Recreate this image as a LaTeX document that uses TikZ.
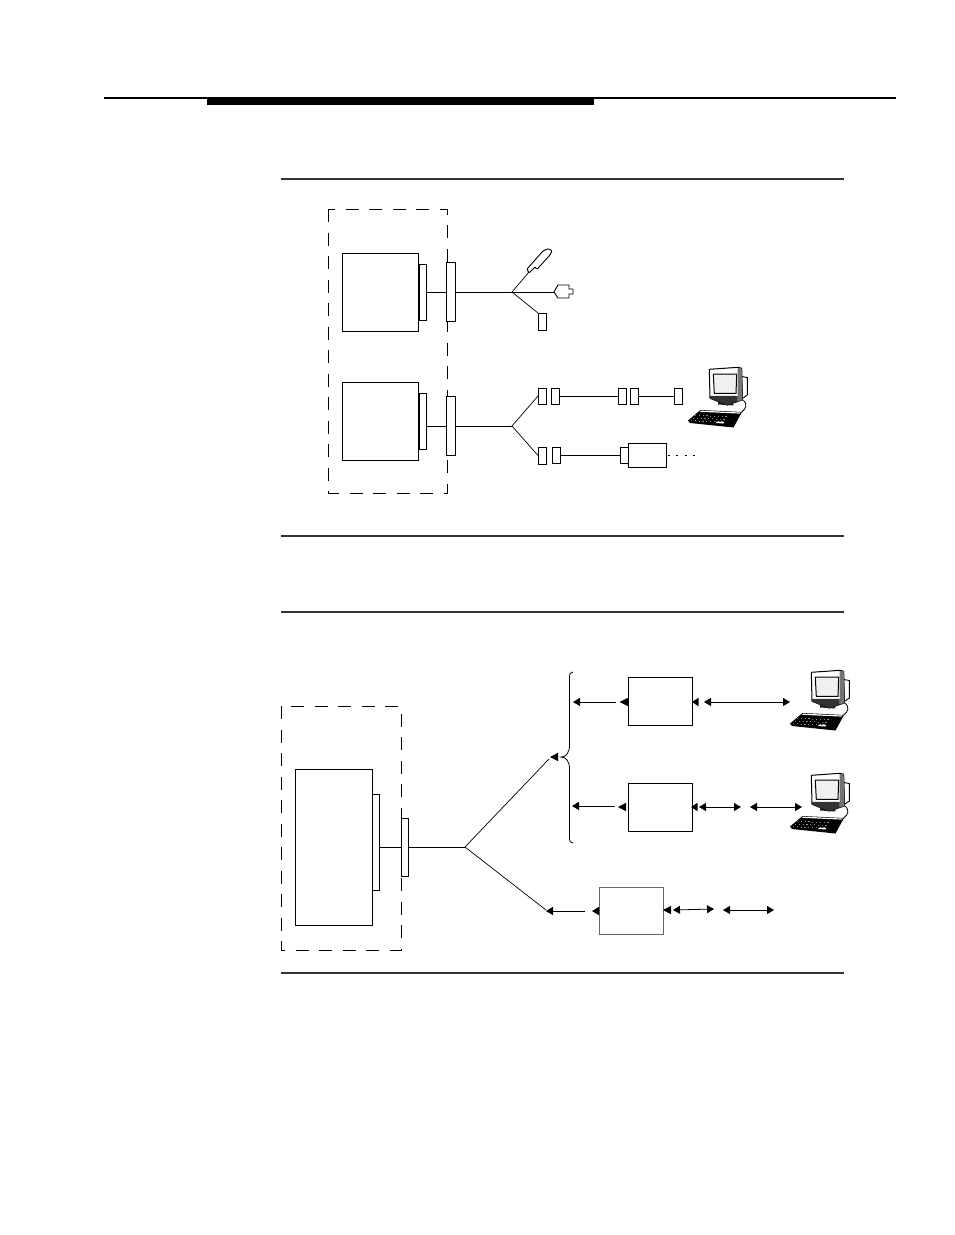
\documentclass[tikz,border=0pt]{standalone}
\usetikzlibrary{arrows.meta}
\tikzset{
  x=1pt,y=-1pt,
  ln/.style={line width=0.9pt,black},
  bx/.style={draw=black,fill=white,line width=0.9pt,inner sep=0pt,outer sep=0pt},
  gbx/.style={bx,draw=black!60},
  dsh/.style={line width=0.9pt,dash pattern=on 13pt off 10.5pt},
  rule/.style={line width=1.7pt,black!80},
  dbl/.style={line width=0.8pt,{Triangle[length=7pt,width=8pt]}-{Triangle[length=7pt,width=8pt]}},
  sgl/.style={line width=0.8pt,{Triangle[length=7pt,width=8pt]}-},
}
% name, x1, y1, x2, y2, style
\newcommand\bxat[6]{%
  \pgfmathsetmacro\bw{#4-#2}\pgfmathsetmacro\bh{#5-#3}%
  \pgfmathsetmacro\bcx{(#2+#4)/2}\pgfmathsetmacro\bcy{(#3+#5)/2}%
  \node[#6,minimum width=\bw pt,minimum height=\bh pt] (#1) at (\bcx,\bcy) {};}
% left-pointing head: tip x, base x, y
\newcommand\lhead[3]{\fill (#1,#3) -- (#2,#3-4.2) -- (#2,#3+4.2) -- cycle;}
\newcommand\computer[1]{%
\begin{scope}[shift={#1}]
  % side bump
  \draw[line width=0.9pt,fill=white] (741.7,376.5) -- (747.3,377.5) -- (747.3,395) -- (742.3,398.5) -- cycle;
  % cable
  \draw[line width=0.8pt] (743.3,400) .. controls (747,404) and (747,408) .. (741.7,412);
  % stand
  \fill[black!85] (718,400) -- (733,400) -- (733.5,405.5) -- (718,404.5) -- cycle;
  % monitor body
  \draw[line width=1pt,fill=white] (709.3,369.3) -- (738.3,367.3) -- (741.7,368.3) -- (742.3,400) -- (727,405) -- (710,398.3) -- cycle;
  \fill[black!55] (737.5,368) -- (741.7,368.3) -- (742.3,400) -- (737.5,401.5) -- cycle;
  \fill[black!80] (710,395.8) -- (737.5,396) -- (737.5,401.5) -- (727,405) -- (710,398.3) -- cycle;
  \draw[line width=1pt,fill=black!6] (713.3,374) -- (736.7,374) -- (736,393.3) -- (714.3,393.3) -- cycle;
  % keyboard
  \fill[black] (688,420.5) -- (700.5,410) -- (742,412) -- (733.5,427.5) -- (690,423) -- cycle;
  \fill[white] (701,410.6) -- (740.5,412.5) -- (739.5,413.6) -- (700,411.8) -- cycle;
  \foreach \r in {0,1,2}{\foreach \c in {0,1,2,3,4,5,6,7,8}{
    \fill[black!45] ({695+\r*(-2)+\c*3.8},{415+\r*2.6+\c*0.15}) rectangle +(1.2,0.7);}}
  \fill[white] (717,421.5) -- (724,422) -- (723.5,423.5) -- (716,423) -- cycle;
\end{scope}}
\begin{document}
\begin{tikzpicture}
\useasboundingbox (0,0) rectangle (954,1235);
\fill[white] (0,0) rectangle (954,1235);

% page header
\coordinate (hl) at (104,98); \coordinate (hr) at (896,98);
\draw[line width=1.2pt] (hl) -- (hr);
\fill (207,97.5) rectangle (594,104.5);

% rules
\foreach \y in {179,536,612,973}{\draw[rule] (281,\y) -- (844,\y);}

%% ---- upper figure
\draw[dsh] (328,209) rectangle (447,493);
\bxat{a1}{342}{253}{418.5}{331}{bx}
\bxat{a1s}{419}{264}{426}{320}{bx}
\draw[line width=1.8pt] (a1s.north west) ++(0.2,0) -- ++(0,56);
\bxat{a1c}{446.5}{262.5}{455.5}{321.5}{bx}
\bxat{a2}{342}{382}{418.5}{460}{bx}
\bxat{a2s}{419}{393}{426}{449}{bx}
\draw[line width=1.8pt] (a2s.north west) ++(0.2,0) -- ++(0,56);
\bxat{a2c}{446.5}{396.5}{455.5}{455.5}{bx}

\coordinate (j1) at (512,292);
\coordinate (j2) at (512,426);
\draw[ln] (a1s.east |- j1) -- (a1c.west |- j1);
\draw[ln] (a1c.east |- j1) -- (j1);
\draw[ln] (a2s.east |- j2) -- (a2c.west |- j2);
\draw[ln] (a2c.east |- j2) -- (j2);

% handset
\draw[line width=0.9pt,fill=white,rounded corners=0.8pt] (529,273) -- (527,269) -- (543,251) -- (548,248.7) -- (552,250.7) -- (550,255) -- (537,269.3) -- (535,267) -- cycle;
\coordinate (hs) at (529,272);
\draw[ln,line width=0.7pt] (j1) -- (hs);
% plug
\draw[line width=0.9pt,fill=white] (554,292) -- (558,285) -- (569,285) -- (569,289) -- (573,289) -- (573,294) -- (569,294) -- (569,298) -- (558,298) -- cycle;
\coordinate (pl) at (554,292);
\draw[ln] (j1) -- (pl);
\bxat{c1}{538}{313}{546}{330}{bx}
\draw[ln,line width=0.7pt] (j1) -- (c1.north west);

\bxat{d1}{538}{388}{546}{404}{bx}
\bxat{d2}{551}{388}{559}{404}{bx}
\bxat{d3}{618}{388}{626}{404}{bx}
\bxat{d4}{630}{388}{638}{404}{bx}
\bxat{d5}{674}{388}{682}{404}{bx}
\draw[ln,line width=0.7pt] (j2) -- (d1.west);
\draw[ln] (d2.east) -- (d3.west);
\draw[ln] (d4.east) -- (d5.west);

\bxat{e1}{538}{447}{546}{464}{bx}
\bxat{e2}{552}{447}{560}{463}{bx}
\bxat{e3}{620}{447}{628}{463}{bx}
\bxat{e4}{628}{443}{666}{467}{bx}
\draw[ln,line width=0.7pt] (j2) -- (e1.west);
\draw[ln] (e2.east) -- (e3.west);
\coordinate (eend) at (695,455);
\draw[line width=0.8pt,dash pattern=on 2pt off 6.5pt] (e4.east) ++(1.5,0) -- (eend);

\computer{(0,0)}

%% ---- lower figure
\draw[dsh] (281,706) rectangle (401,950);
\bxat{m}{295}{769}{372.5}{925}{bx}
\bxat{ms}{372.5}{794}{379}{890}{bx}
\bxat{mc}{401}{818}{408.5}{876}{bx}
\coordinate (j3) at (465,847);
\draw[ln] (ms.east |- j3) -- (mc.west |- j3);
\draw[ln] (mc.east |- j3) -- (j3);

\coordinate (up) at (549,759);
\coordinate (dn) at (546,910);
\draw[ln,line width=0.7pt] (j3) -- (up);
\lhead{550}{558}{757}
\draw[ln,line width=0.7pt] (j3) -- (dn);

% brace
\draw[line width=0.8pt] (573,672) .. controls (570,672) and (569.5,674) .. (569.5,678)
  -- (569.5,745) .. controls (569.5,753) and (566,757) .. (561,757)
  .. controls (566,757) and (569.5,761) .. (569.5,769)
  -- (569.5,837) .. controls (569.5,841) and (570,843) .. (573,843);

\bxat{b1}{628}{677}{692}{725}{bx}
\bxat{b2}{628}{783}{692}{831}{bx}
\bxat{b3}{599}{887}{663}{934}{gbx}

% row 1
\coordinate (p1) at (573,702); \coordinate (p2) at (616,702);
\draw[sgl] (p1) -- (p2);
\lhead{619.5}{628}{702}
\lhead{692}{698.5}{702}
\coordinate (p3) at (704,702); \coordinate (p4) at (790,702);
\draw[dbl] (p3) -- (p4);

% row 2
\coordinate (q1) at (572,806); \coordinate (q2) at (615,806);
\draw[sgl] (q1) -- (q2);
\lhead{618}{626}{807}
\lhead{691}{697.5}{807}
\coordinate (q3) at (699,807); \coordinate (q4) at (741,807);
\draw[dbl] (q3) -- (q4);
\coordinate (q5) at (750,807); \coordinate (q6) at (802,807);
\draw[dbl] (q5) -- (q6);

% row 3
\coordinate (s1) at (546,911); \coordinate (s2) at (585,911);
\draw[sgl] (s1) -- (s2);
\lhead{592}{599}{911}
\lhead{663}{671}{910}
\coordinate (s3) at (673,910); \coordinate (s4) at (714,909);
\draw[dbl] (s3) -- (s4);
\coordinate (s5) at (723,910); \coordinate (s6) at (774,910);
\draw[dbl] (s5) -- (s6);

\computer{(102,303)}
\computer{(102,406)}
\end{tikzpicture}
\end{document}
